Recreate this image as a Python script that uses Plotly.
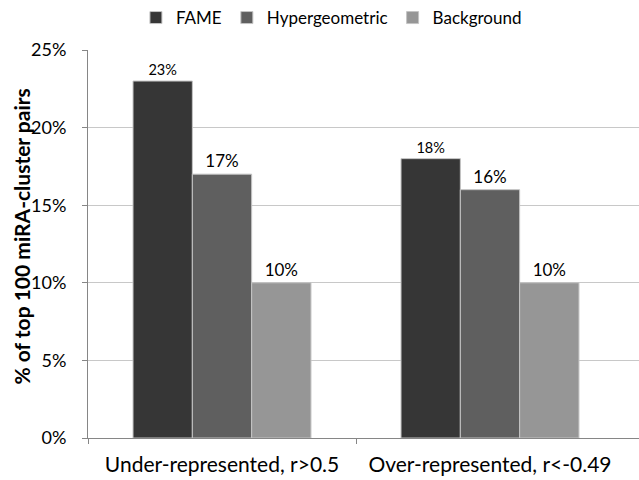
import plotly.graph_objects as go

# Share of the top 100 miRA-cluster pairs, by method and correlation group
categories = ["Under-represented, r>0.5", "Over-represented, r<-0.49"]
series_names = ["FAME", "Hypergeometric", "Background"]
fame = [23, 18]
hypergeometric = [17, 16]
background = [10, 10]
y_ticks = [0, 5, 10, 15, 20, 25]
y_tick_labels = [f"{t}%" for t in y_ticks]
y_title = "% of top 100 miRA-cluster pairs"

colors = ["#363636", "#5f5f5f", "#969696"]
label_sizes = [14.5, 17, 17]
series_values = [fame, hypergeometric, background]

fig = go.Figure()
x_pos = list(range(len(categories)))
for name, vals, col, ls in zip(series_names, series_values, colors, label_sizes):
    fig.add_trace(go.Bar(
        name=name, x=x_pos, y=vals,
        marker=dict(color=col, line=dict(color="#c4c4c4", width=1)),
        text=[f"{v}%" for v in vals], textposition="outside",
        textfont=dict(size=ls, color="#000000", family="Lato"),
        cliponaxis=False,
    ))

# invisible trace on a twin axis carrying the category boundary ticks
fig.add_trace(go.Scatter(x=[0], y=[0], xaxis="x2", mode="markers",
                         marker=dict(opacity=0), showlegend=False,
                         hoverinfo="skip"))

x_range = [-0.5, 1.556]
fig.update_layout(
    width=639, height=480,
    margin=dict(l=88, r=0, t=50, b=42),
    paper_bgcolor="white", plot_bgcolor="white",
    barmode="group", bargap=0.336, bargroupgap=0,
    font=dict(family="Lato", color="#000000"),
    showlegend=True,
    legend=dict(orientation="h", x=0.087, xanchor="left", y=1.0825, yanchor="middle",
                font=dict(size=17), itemwidth=30, traceorder="normal"),
    xaxis=dict(range=x_range, tickvals=x_pos, ticktext=categories,
               showgrid=False, zeroline=False, ticks="",
               showline=True, linecolor="#868686", linewidth=1,
               tickfont=dict(size=21), ticklabelstandoff=8),
    xaxis2=dict(range=x_range, overlaying="x",
                tickvals=[-0.5, 0.5], ticks="outside", ticklen=5,
                tickcolor="#868686", showticklabels=False, showgrid=False,
                zeroline=False, showline=False),
    yaxis=dict(range=[0, 25], tickvals=y_ticks, ticktext=y_tick_labels,
               showgrid=True, gridcolor="#c8c8c8", gridwidth=1,
               zeroline=False, showline=True, linecolor="#868686",
               ticks="outside", ticklen=5, tickcolor="#868686",
               tickfont=dict(size=18), ticklabelstandoff=12),
    annotations=[dict(text=f"<b>{y_title}</b>", textangle=-90,
                      xref="paper", yref="paper", x=-0.12, y=0.519,
                      xanchor="center", yanchor="middle", showarrow=False,
                      font=dict(size=21))],
)

fig.write_html("out.html")
